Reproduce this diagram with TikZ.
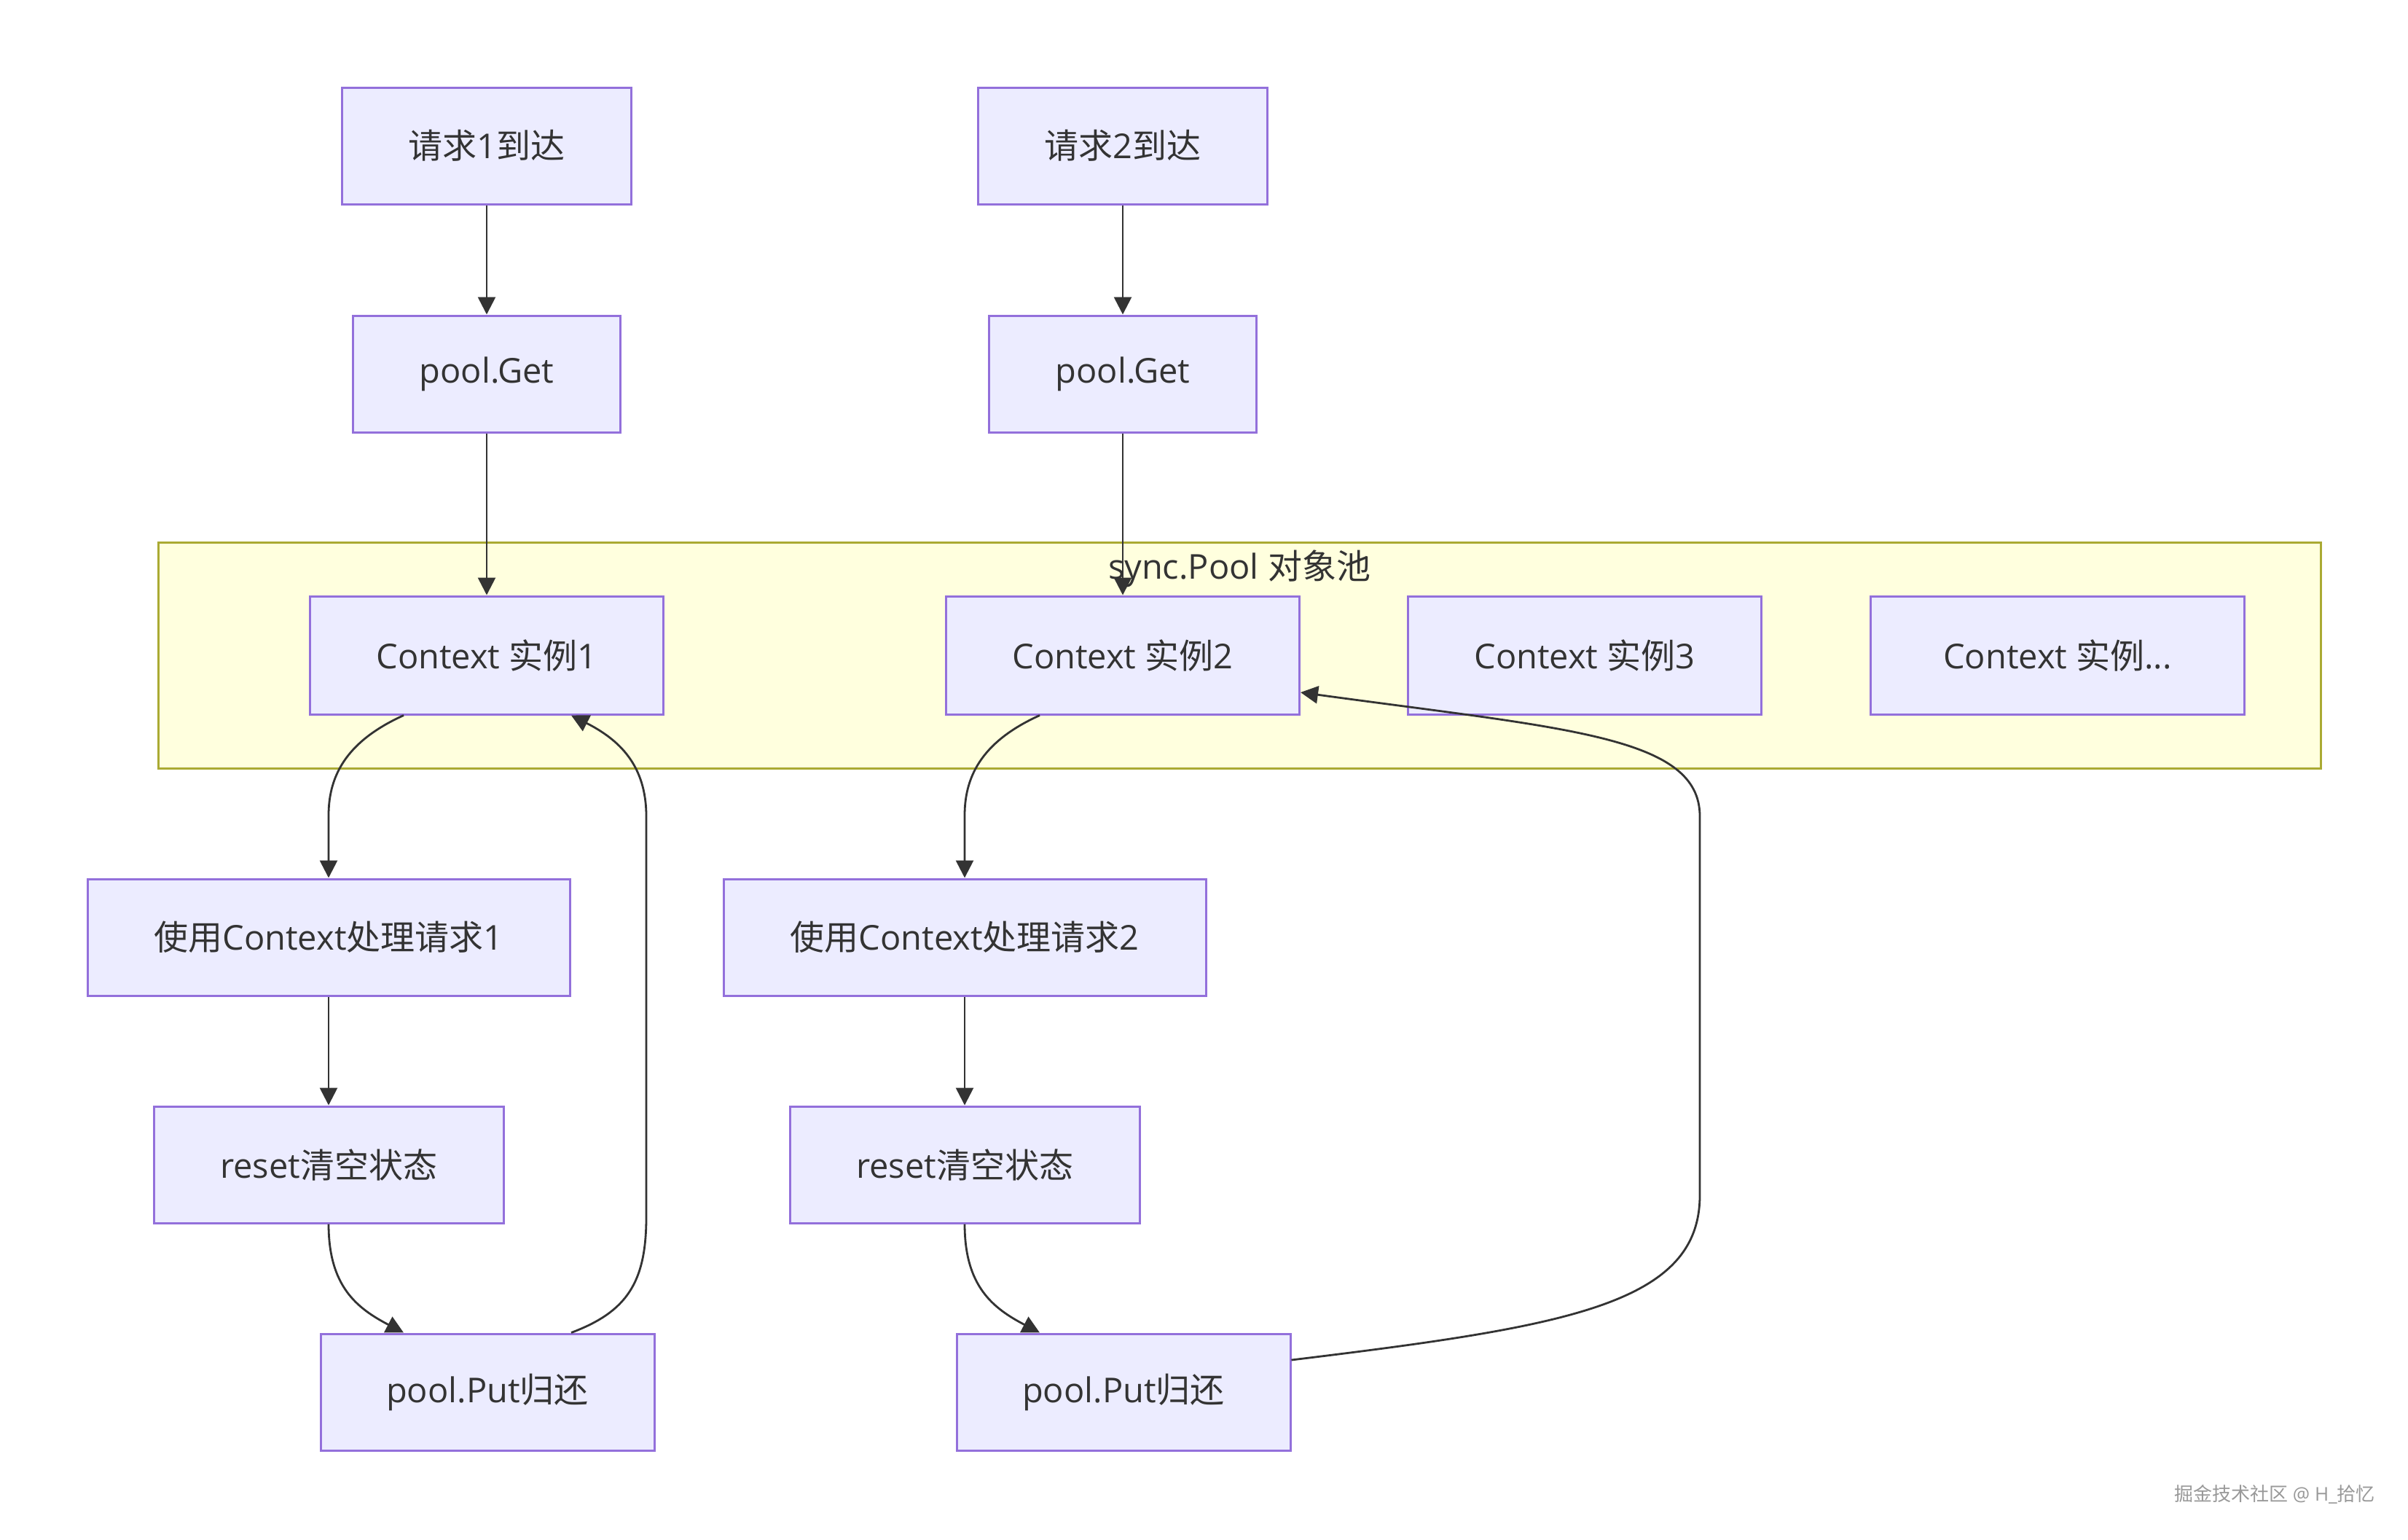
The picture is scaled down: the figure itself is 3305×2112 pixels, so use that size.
\documentclass[tikz,border=0pt]{standalone}
\usepackage{fontspec}
\setmainfont{Open Sans}
\newfontfamily\cjk{Noto Sans CJK SC}
\usetikzlibrary{arrows.meta,calc}
\definecolor{nodefill}{HTML}{ECECFF}
\definecolor{nodeline}{HTML}{9370DB}
\definecolor{clfill}{HTML}{FFFFDE}
\definecolor{clline}{HTML}{AAAA33}
\definecolor{ink}{HTML}{333333}
\newcommand{\zh}[1]{{\cjk #1}}
\begin{document}
\begin{tikzpicture}[x=1pt,y=-1pt,
  box/.style={draw=nodeline,fill=nodefill,line width=3pt,inner sep=0pt,
    minimum height=160pt,text=ink,font=\fontsize{47}{56}\selectfont},
  edge/.style={draw=ink,line width=2.8pt,-{Triangle[length=24pt,width=24pt]}},
  cluster/.style={draw=clline,fill=clfill,line width=3pt},
  lbl/.style={text=ink,inner sep=0pt,font=\fontsize{47}{56}\selectfont},
  wmark/.style={text=gray!80,inner sep=0pt,font=\fontsize{26}{30}\selectfont}]
\useasboundingbox (0,0) rectangle (3305,2112);
\fill[white] (0,0) rectangle (3305,2112);

% cluster
\draw[cluster] (217,744) rectangle (3185,1054);
\node[lbl] (cl) at (1701,780) {sync.Pool \zh{对象池}};

% nodes
\node[box,minimum width=397pt] (r1) at (668,200) {\zh{请求}1\zh{到达}};
\node[box,minimum width=397pt] (r2) at (1541,200) {\zh{请求}2\zh{到达}};
\node[box,minimum width=367pt] (g1) at (668,513) {pool.Get};
\node[box,minimum width=367pt] (g2) at (1541,513) {pool.Get};
\node[box,minimum width=485pt,minimum height=162pt] (c1) at (668,899) {Context \zh{实例}1};
\node[box,minimum width=485pt,minimum height=162pt] (c2) at (1541,899) {Context \zh{实例}2};
\node[box,minimum width=485pt,minimum height=162pt] (c3) at (2175,899) {Context \zh{实例}3};
\node[box,minimum width=513pt,minimum height=162pt] (c4) at (2824,899) {Context \zh{实例}...};
\node[box,minimum width=662pt] (u1) at (451,1286) {\zh{使用}Context\zh{处理请求}1};
\node[box,minimum width=662pt] (u2) at (1324,1286) {\zh{使用}Context\zh{处理请求}2};
\node[box,minimum width=480pt] (s1) at (451,1598) {reset\zh{清空状态}};
\node[box,minimum width=480pt] (s2) at (1324,1598) {reset\zh{清空状态}};
\node[box,minimum width=458pt] (p1) at (669,1910) {pool.Put\zh{归还}};
\node[box,minimum width=458pt] (p2) at (1542,1910) {pool.Put\zh{归还}};

% straight edges
\draw[edge] (r1) -- (g1);
\draw[edge] (g1) -- (c1);
\draw[edge] (r2) -- (g2);
\draw[edge] (g2) -- (c2);
\draw[edge] (u1) -- (s1);
\draw[edge] (u2) -- (s2);

% curved edges, chain 1
\draw[edge] ([xshift=-114pt]c1.south) .. controls (480,1015) and (451,1060) .. ([yshift=86pt]u1.north) -- (u1.north);
\draw[edge] (s1.south) .. controls (451,1765) and (490,1795) .. ([xshift=-115pt]p1.north);
\draw[edge] ([xshift=115pt]p1.north) .. controls (860,1800) and (887,1760) .. (887,1670) -- (887,1120) .. controls (887,1050) and (850,1015) .. ([xshift=116pt]c1.south);

% curved edges, chain 2
\draw[edge] ([xshift=-114pt]c2.south) .. controls (1353,1015) and (1324,1060) .. ([yshift=86pt]u2.north) -- (u2.north);
\draw[edge] (s2.south) .. controls (1324,1765) and (1363,1795) .. ([xshift=-115pt]p2.north);
\draw[edge] ([yshift=44pt]p2.east) .. controls (2150,1820) and (2333,1790) .. (2333,1640) -- (2333,1120) .. controls (2333,1010) and (2150,1000) .. ([yshift=-51pt]c2.east);

% watermark
\node[wmark] (wm) at (3122,2050) {\zh{掘金技术社区} @ H\_\zh{拾忆}};
\end{tikzpicture}
\end{document}
